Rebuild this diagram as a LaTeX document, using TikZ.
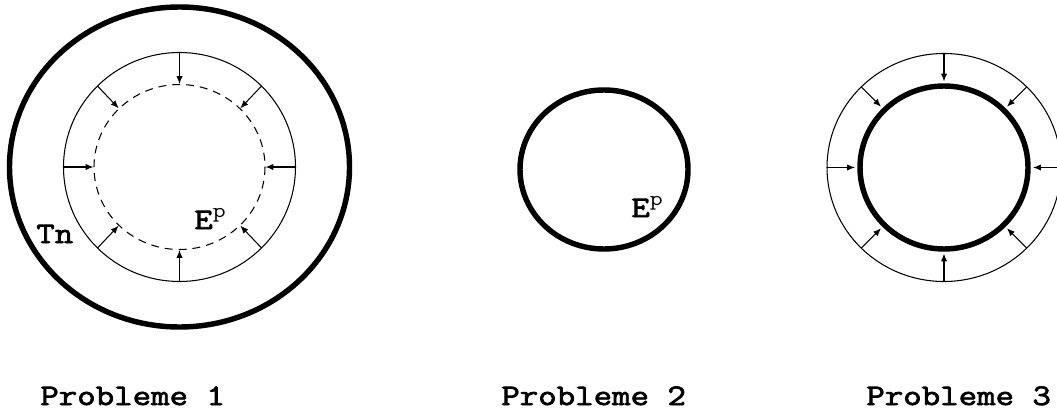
\documentclass[tikz,border=0pt]{standalone}
\usepackage{fontspec}
\newfontfamily\courfont{Latin Modern Mono}[FakeStretch=1.2, FakeBold=2.5]
\newfontfamily\courlight{Latin Modern Mono}[FakeStretch=1.2]
\usetikzlibrary{arrows.meta}

\begin{document}
\begin{tikzpicture}[
    x=0.02cm, y=-0.02cm,
    thickring/.style={line width=3.1pt},
    thinring/.style={line width=0.6pt},
    dashring/.style={thinring, dash pattern=on 4.5pt off 3.4pt},
    push/.style={thinring, -{Latex[length=4.5pt, width=3.6pt]}},
    lbl/.style={font=\fontsize{17}{20}\selectfont\courfont, inner sep=0pt, anchor=base west}
  ]
    \useasboundingbox (0,0) rectangle (1057,412);
    \coordinate (c1) at (179.5,167);
    \coordinate (c2) at (604,169.5);
    \coordinate (c3) at (944,167.5);
    \draw[thickring] (c1) ellipse (170 and 160);
    \draw[thinring] (c1) ellipse (116 and 114.5);
    \draw[dashring] (c1) ellipse (85.5 and 82.5);
    \foreach \a in {0,45,...,315} {
      \draw[push] ([shift={(\a:116 and 114.5)}]c1) -- ([shift={(\a:86 and 83)}]c1);
    }
    \draw[thickring] (c2) ellipse (84 and 79.5);
    \draw[thinring] (c3) ellipse (117 and 114);
    \foreach \a in {0,45,...,315} {
      \draw[push] ([shift={(\a:117 and 114)}]c3) -- ([shift={(\a:89 and 86)}]c3);
    }
    \draw[thickring] (c3) ellipse (84 and 81.5);
    \node[lbl] (tn) at (36,243) {Tn};
    \node[lbl] (ep1) at (194,229) {E\textsuperscript{\courlight p}};
    \node[lbl] (ep2) at (631,217) {E\textsuperscript{\courlight p}};
    \node[lbl] (pb1) at (40,405) {Probleme 1};
    \node[lbl] (pb2) at (501,405) {Probleme 2};
    \node[lbl] (pb3) at (866,405) {Probleme 3};
\end{tikzpicture}
\end{document}
